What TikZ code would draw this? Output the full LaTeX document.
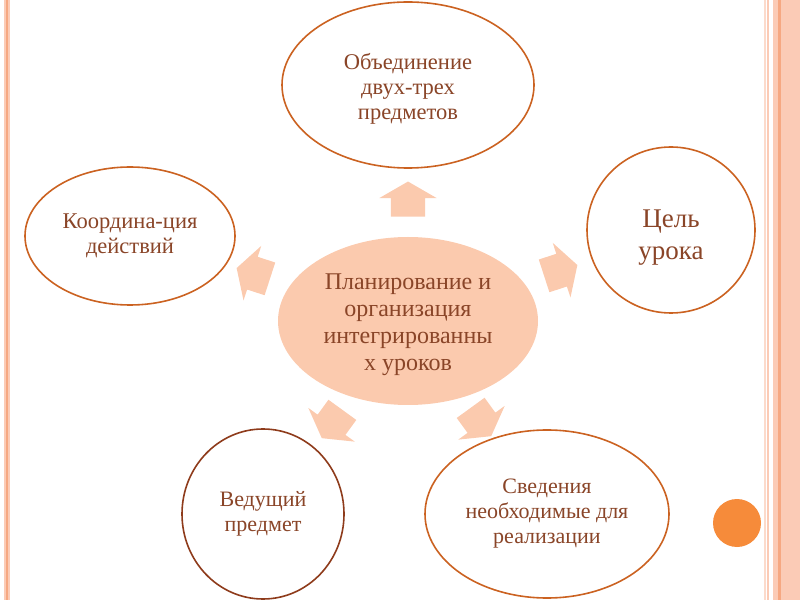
\documentclass[tikz,border=0pt]{standalone}
\usepackage{fontspec}
\setmainfont{Liberation Serif}
\usepackage{tikz}
\usetikzlibrary{shapes.geometric, shapes.arrows}
\definecolor{rim}{HTML}{CB6221}
\definecolor{rimdark}{HTML}{8E3B1B}
\definecolor{ink}{HTML}{8A4528}
\definecolor{peach}{HTML}{FBCAAE}
\definecolor{stripe}{HTML}{FBCBB6}
\definecolor{stripedark}{HTML}{F6A882}
\definecolor{dot}{HTML}{F68B3A}

\begin{document}
\begin{tikzpicture}[x=1pt, y=1pt,
    bubble/.style={ellipse, draw=rim, line width=1.6pt, fill=white, text=ink,
                   align=center, inner sep=-6pt, font=\fontsize{22.5}{25}\selectfont},
    hub/.style={ellipse, fill=peach, text=ink, align=center, inner sep=-4pt,
                font=\fontsize{24}{27}\selectfont},
    push/.style={single arrow, fill=peach, draw=none, inner xsep=0pt, inner ysep=17pt,
                 minimum height=35pt, minimum width=57pt,
                 single arrow head extend=11.5pt, single arrow tip angle=120}
  ]
    \useasboundingbox (0,0) rectangle (800,600);

    % Side stripes
    \fill[stripe] (4,0) rectangle (10,600);
    \fill[stripedark] (6.3,0) rectangle (7.7,600);
    \fill[stripe!70!white] (764,0) rectangle (766,600);
    \fill[stripe] (767.3,0) rectangle (769.3,600);
    \fill[stripe] (772.7,0) rectangle (800,600);
    \fill[stripedark] (778.3,0) rectangle (780.7,600);
    \fill[dot] (737,77) circle (24);

    % Centre
    \node[hub, minimum width=260pt, minimum height=168pt] (hub) at (408,279)
      {\rule{0pt}{24pt}Планирование и\\организация\\интегрированны\\х уроков};

    % Outer bubbles
    \node[bubble, minimum width=252pt, minimum height=166pt] (unite) at (408,515)
      {\rule{0pt}{24pt}Объединение\\двух-трех\\предметов};
    \node[bubble, minimum width=168pt, minimum height=166pt,
          font=\fontsize{27}{32}\selectfont] (goal) at (671,370)
      {\rule{0pt}{33pt}Цель\\урока};
    \node[bubble, minimum width=244pt, minimum height=168pt,
          font=\fontsize{22}{25}\selectfont] (info) at (547,86)
      {Сведения\\необходимые для\\реализации};
    \node[bubble, draw=rimdark, minimum width=162pt, minimum height=170pt,
          font=\fontsize{22}{25}\selectfont] (lead) at (263,86) {Ведущий\\предмет};
    \node[bubble, minimum width=210pt, minimum height=138pt] (coord) at (130,364)
      {Координа-ция\\действий};

    % Block arrows
    \node[push, rotate=90] (toUnite) at (408,396) {};
    \node[push, rotate=18] (toGoal) at (556,328) {};
    \node[push, rotate=-54] (toInfo) at (478,182) {};
    \node[push, rotate=-126] (toLead) at (335,180) {};
    \node[push, rotate=162] (toCoord) at (258,325) {};
\end{tikzpicture}
\end{document}
